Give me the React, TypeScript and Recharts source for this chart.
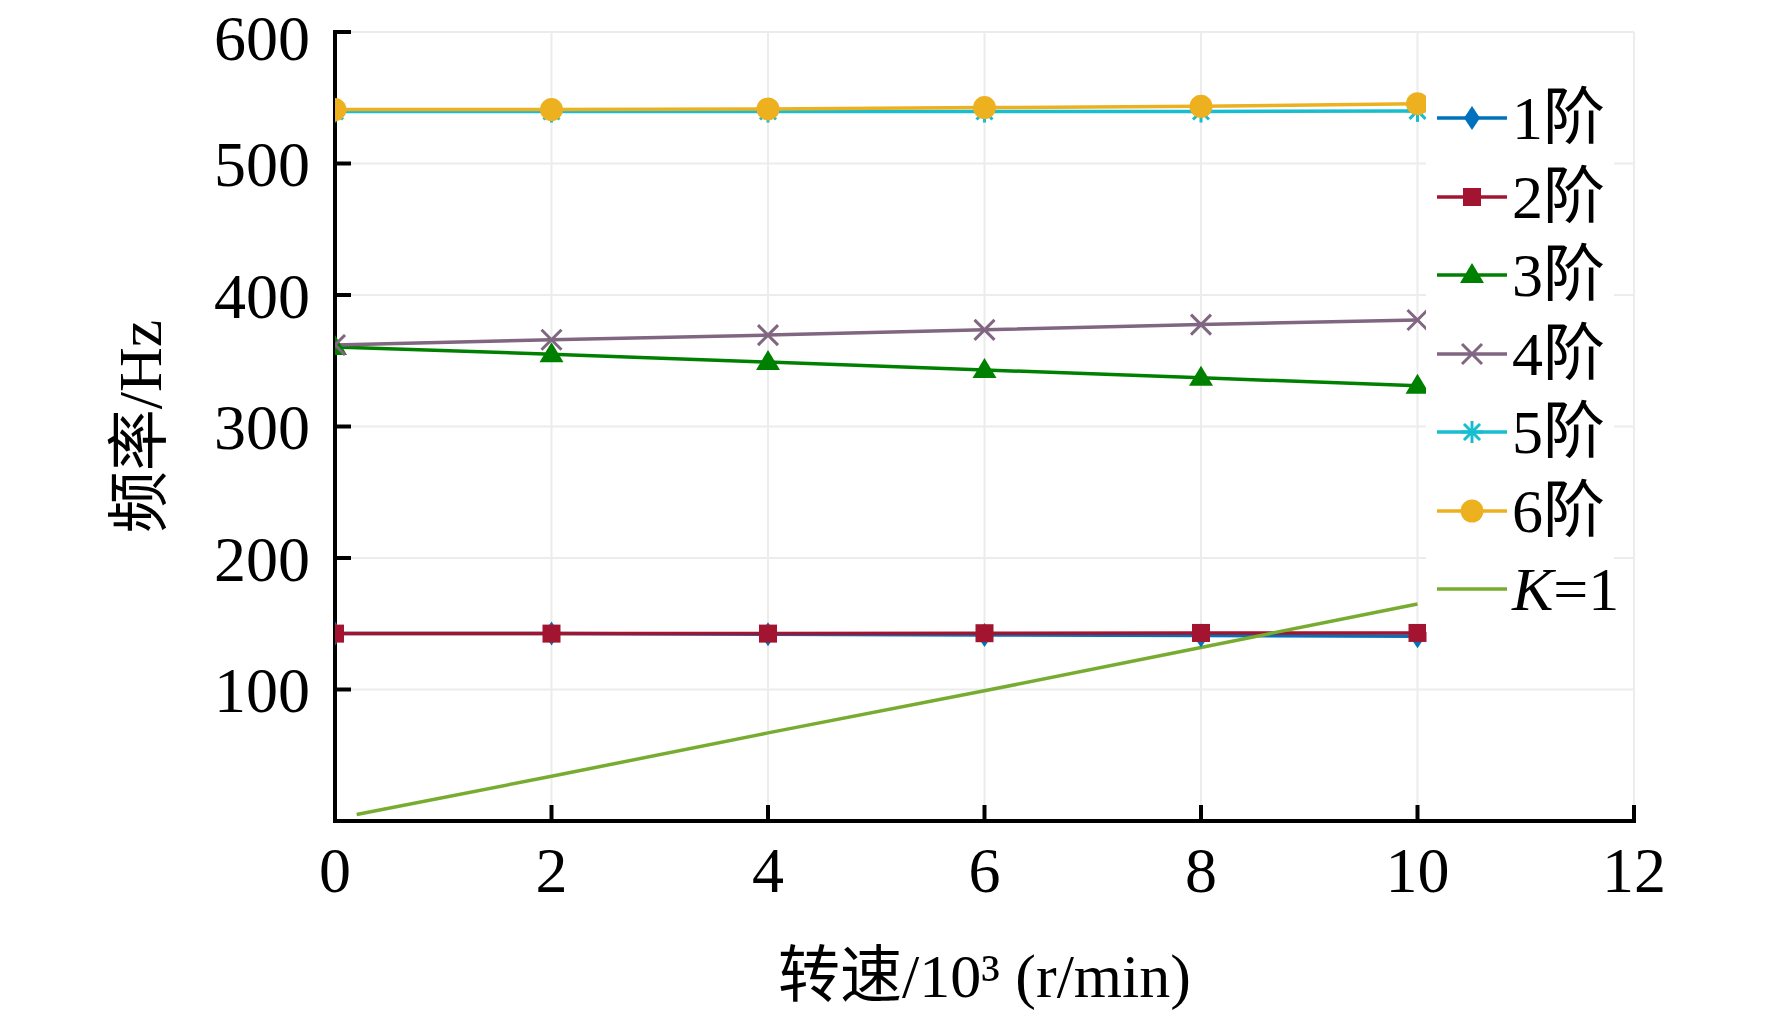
import React from "react"
import {
  CartesianGrid,
  Label,
  Legend,
  Line,
  LineChart,
  XAxis,
  YAxis,
} from "recharts"

const speed = [0, 2, 4, 6, 8, 10]
const order1 = [142.5, 142.5, 142, 141.5, 141, 140.5]
const order2 = [142.5, 142.5, 142.5, 142.8, 143, 143]
const order3 = [360.5, 355, 349, 343, 337, 331]
const order4 = [362, 366, 369.5, 373.5, 377.5, 381]
const order5 = [539.5, 539.5, 539.5, 539.5, 539.5, 540]
const order6 = [541, 541, 541.5, 542.5, 543.5, 545.5]
const kSpeed = [0.2, 2, 4, 6, 8, 10]
const kFreq = [5, 34, 67, 99, 132, 165]

const xTicks = [0, 2, 4, 6, 8, 10, 12]
const yTicks = [100, 200, 300, 400, 500, 600]

const FONT =
  '"Liberation Serif", "Times New Roman", "Noto Sans CJK SC", serif'

type Shape = "diamond" | "square" | "triangle" | "x" | "asterisk" | "circle" | "none"

const series: { key: string; name: string; color: string; shape: Shape; values: number[] }[] = [
  { key: "o1", name: "1阶", color: "#0072BD", shape: "diamond", values: order1 },
  { key: "o2", name: "2阶", color: "#A2142F", shape: "square", values: order2 },
  { key: "o3", name: "3阶", color: "#008000", shape: "triangle", values: order3 },
  { key: "o4", name: "4阶", color: "#806680", shape: "x", values: order4 },
  { key: "o5", name: "5阶", color: "#17BECF", shape: "asterisk", values: order5 },
  { key: "o6", name: "6阶", color: "#EDB120", shape: "circle", values: order6 },
]
const kColor = "#77AC30"

const table = speed.map((s, i) => {
  const row: Record<string, number> = { speed: s }
  series.forEach((d) => (row[d.key] = d.values[i]))
  return row
})
const kTable = kSpeed.map((s, i) => ({ speed: s, k: kFreq[i] }))

function Marker({ cx, cy, shape, color }: { cx: number; cy: number; shape: Shape; color: string }) {
  if (cx == null || cy == null) return <g />
  switch (shape) {
    case "diamond":
      return (
        <polygon
          points={`${cx},${cy - 12} ${cx + 8},${cy} ${cx},${cy + 12} ${cx - 8},${cy}`}
          fill={color}
        />
      )
    case "square":
      return <rect x={cx - 9} y={cy - 9} width={18} height={18} fill={color} />
    case "triangle":
      return (
        <polygon
          points={`${cx},${cy - 12} ${cx + 12},${cy + 8} ${cx - 12},${cy + 8}`}
          fill={color}
        />
      )
    case "x":
      return (
        <g stroke={color} strokeWidth={3}>
          <line x1={cx - 10} y1={cy - 10} x2={cx + 10} y2={cy + 10} />
          <line x1={cx - 10} y1={cy + 10} x2={cx + 10} y2={cy - 10} />
        </g>
      )
    case "asterisk":
      return (
        <g stroke={color} strokeWidth={3}>
          <line x1={cx - 11} y1={cy} x2={cx + 11} y2={cy} />
          <line x1={cx} y1={cy - 11} x2={cx} y2={cy + 11} />
          <line x1={cx - 8} y1={cy - 8} x2={cx + 8} y2={cy + 8} />
          <line x1={cx - 8} y1={cy + 8} x2={cx + 8} y2={cy - 8} />
        </g>
      )
    case "circle":
      return <circle cx={cx} cy={cy} r={11.5} fill={color} />
    default:
      return <g />
  }
}

const legendItems = [
  ...series.map((s) => ({ name: s.name, color: s.color, shape: s.shape })),
  { name: "K=1", color: kColor, shape: "none" as Shape },
]

// white box stops short of the right axis so its inward ticks stay visible
function LegendBox() {
  return (
    <div
      style={{
        background: "#fff",
        width: 188,
        height: 560,
        paddingTop: 7,
        boxSizing: "border-box",
        overflow: "visible",
      }}
    >
      {legendItems.map((it) => (
        <div
          key={it.name}
          style={{
            height: 78.5,
            display: "flex",
            alignItems: "center",
            fontFamily: FONT,
            fontSize: 62,
            whiteSpace: "nowrap",
          }}
        >
          <svg width={86} height={40} style={{ flex: "none" }}>
            <line x1={11} y1={20} x2={81} y2={20} stroke={it.color} strokeWidth={3.5} />
            <Marker cx={46} cy={20} shape={it.shape} color={it.color} />
          </svg>
          <span style={{ lineHeight: 1, color: "#000" }}>
            {it.name === "K=1" ? (
              <>
                <i>K</i>=1
              </>
            ) : (
              it.name
            )}
          </span>
        </div>
      ))}
    </div>
  )
}

const axisLine = { stroke: "#000", strokeWidth: 4, strokeLinecap: "square" as const }
const tickLine = { stroke: "#000", strokeWidth: 4 }
const tickFont = { fontSize: 64, fill: "#000", fontFamily: FONT }
const noLabel = () => <g />

export default function App() {
  return (
    <div style={{ position: "absolute", left: 0, top: 0, background: "#fff" }}>
      <LineChart
        width={1772}
        height={1014}
        data={table}
        margin={{ top: 32, right: 138, bottom: 73, left: 135 }}
      >
        <CartesianGrid stroke="#ececec" strokeWidth={2} />
        <XAxis
          dataKey="speed"
          type="number"
          domain={[0, 12]}
          ticks={xTicks}
          height={120}
          axisLine={axisLine}
          tickLine={tickLine}
          tickSize={-16}
          tickMargin={42}
          tick={tickFont}
          allowDataOverflow
        >
          <Label
            value="转速/10³ (r/min)"
            position="bottom"
            content={({ viewBox }: any) => (
              <text
                x={viewBox.x + viewBox.width / 2}
                y={976}
                textAnchor="middle"
                dominantBaseline="central"
                fontSize={62}
                fontFamily={FONT}
                fill="#000"
              >
                转速/10³ (r/min)
              </text>
            )}
          />
        </XAxis>
        <XAxis
          xAxisId="top"
          orientation="top"
          dataKey="speed"
          type="number"
          domain={[0, 12]}
          ticks={xTicks}
          height={0}
          axisLine={axisLine}
          tickLine={tickLine}
          tickSize={-16}
          tick={noLabel}
        />
        <YAxis
          type="number"
          domain={[0, 600]}
          ticks={yTicks}
          width={200}
          axisLine={axisLine}
          tickLine={tickLine}
          tickSize={-16}
          tickMargin={41}
          tick={tickFont}
        >
          <Label
            position="left"
            content={({ viewBox }: any) => {
              const cx = viewBox.x + viewBox.width - 195
              const cy = viewBox.y + viewBox.height / 2
              return (
                <text
                  x={cx}
                  y={cy}
                  transform={`rotate(-90, ${cx}, ${cy})`}
                  textAnchor="middle"
                  dominantBaseline="central"
                  fontSize={62}
                  fontFamily={FONT}
                  fill="#000"
                >
                  频率/Hz
                </text>
              )
            }}
          />
        </YAxis>
        <YAxis
          yAxisId="right"
          orientation="right"
          type="number"
          domain={[0, 600]}
          ticks={yTicks}
          width={0}
          axisLine={axisLine}
          tickLine={tickLine}
          tickSize={-16}
          tick={noLabel}
        />
        <Legend
          layout="vertical"
          align="center"
          verticalAlign="middle"
          wrapperStyle={{ left: 1426, top: 72, width: 188, height: 560, overflow: "visible" }}
          content={() => <LegendBox />}
        />
        {series.map((s) => (
          <Line
            key={s.key}
            dataKey={s.key}
            name={s.name}
            stroke={s.color}
            strokeWidth={3.5}
            isAnimationActive={false}
            activeDot={false}
            dot={(p: any) => (
              <Marker key={`${s.key}-${p.index}`} cx={p.cx} cy={p.cy} shape={s.shape} color={s.color} />
            )}
          />
        ))}
        <Line
          data={kTable}
          dataKey="k"
          name="K=1"
          stroke={kColor}
          strokeWidth={3.5}
          dot={false}
          activeDot={false}
          isAnimationActive={false}
        />
      </LineChart>
    </div>
  )
}
